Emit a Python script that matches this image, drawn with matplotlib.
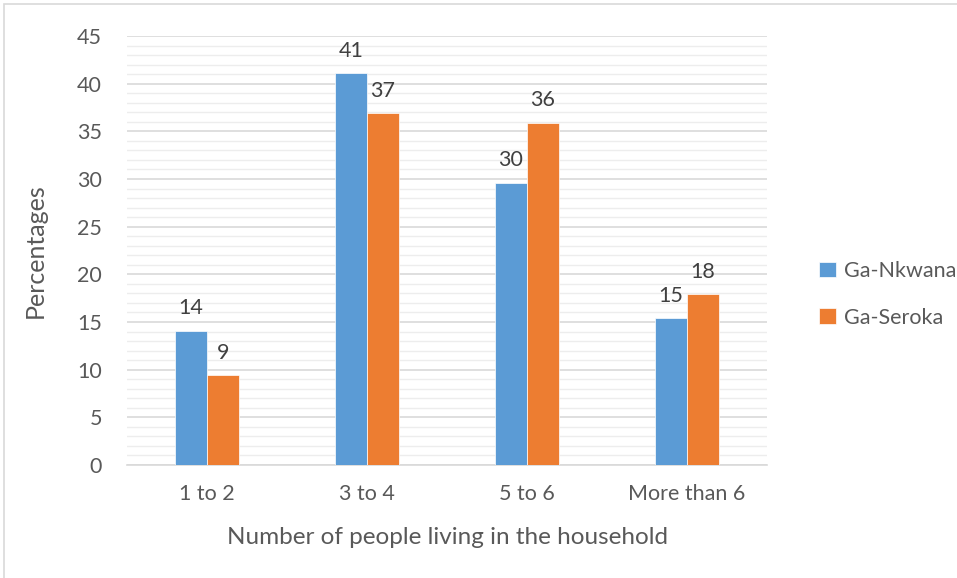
import matplotlib
matplotlib.use("Agg")
import matplotlib.pyplot as plt
from matplotlib.patches import Rectangle
import numpy as np

categories = ["1 to 2", "3 to 4", "5 to 6", "More than 6"]
ga_nkwana = [14.1, 41.1, 29.6, 15.4]
ga_seroka = [9.4, 36.9, 35.9, 17.9]
series_names = ["Ga-Nkwana", "Ga-Seroka"]
yticks = list(range(0, 50, 5))

BLUE = "#5B9BD5"
ORANGE = "#ED7D31"
TEXT = "#595959"

plt.rcParams["font.family"] = ["Lato", "DejaVu Sans"]

fig = plt.figure(figsize=(9.57, 5.78), dpi=100)
ax = fig.add_axes([0.1327, 0.1955, 0.8015 - 0.1327, 0.9377 - 0.1955])

x = np.arange(len(categories))
w = 0.2
b1 = ax.bar(x - w / 2, ga_nkwana, w, color=BLUE, edgecolor="white", linewidth=0.5,
            label=series_names[0], zorder=3)
b2 = ax.bar(x + w / 2, ga_seroka, w, color=ORANGE, edgecolor="white", linewidth=0.5,
            label=series_names[1], zorder=3)

for bars, vals in ((b1, ga_nkwana), (b2, ga_seroka)):
    for rect, v in zip(bars, vals):
        ax.annotate(f"{v:.0f}", (rect.get_x() + rect.get_width() / 2, v),
                    xytext=(0, 9), textcoords="offset points",
                    ha="center", va="bottom", fontsize=15.5, color="#404040")

ax.set_xlim(-0.5, 3.5)
ax.set_ylim(0, 45)
ax.set_yticks(yticks)
ax.set_yticks(np.arange(0, 46, 1), minor=True)
ax.set_xticks(x)
ax.set_xticklabels(categories)
ax.grid(axis="y", which="major", color="#D9D9D9", linewidth=1.2, zorder=0)
ax.grid(axis="y", which="minor", color="#EDEDED", linewidth=1.0, zorder=0)
ax.set_axisbelow(True)
for s in ("top", "right", "left"):
    ax.spines[s].set_visible(False)
ax.spines["bottom"].set_color("#D9D9D9")
ax.spines["bottom"].set_linewidth(1.2)
ax.tick_params(axis="both", which="both", length=0, labelsize=15.5, colors=TEXT)
ax.tick_params(axis="y", pad=18)
ax.tick_params(axis="x", pad=14)

ax.set_xlabel("Number of people living in the household", fontsize=17.5, color=TEXT, labelpad=16)
ax.set_ylabel("Percentages", fontsize=18, color=TEXT, labelpad=22)

fig.legend(handles=[b1, b2], labels=series_names, loc="upper left",
           bbox_to_anchor=(0.836, 0.582), frameon=False, fontsize=15.5,
           labelcolor=TEXT, handlelength=0.75, handleheight=0.75,
           handletextpad=0.4, labelspacing=1.25)

fig.patches.append(Rectangle((4 / 957, -0.1), 1.2, 1 - 4 / 578 + 0.1,
                             transform=fig.transFigure, fill=False,
                             edgecolor="#D9D9D9", linewidth=1.2))

fig.savefig("out.png", dpi=100, facecolor="white")
